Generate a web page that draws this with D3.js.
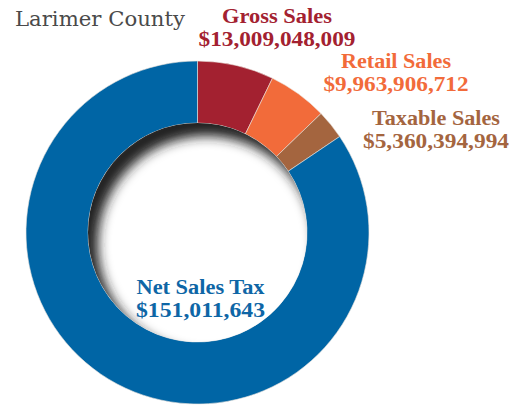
<!DOCTYPE html>
<html>
<head>
<meta charset="utf-8">
<script src="https://cdn.jsdelivr.net/npm/d3@7"></script>
<style>
  html, body { margin: 0; padding: 0; background: #fff; }
  svg { display: block; }
</style>
</head>
<body>
<svg id="chart" width="522" height="405"></svg>
<script>
// Sales categories for Larimer County
const categories = ["Gross Sales", "Retail Sales", "Taxable Sales", "Net Sales Tax"];
// Amounts printed under each category name
const amounts = [13009048009, 9963906712, 5360394994, 151011643];
// Share of the ring given to each category (percent)
const shares = [7.2, 5.6, 2.75, 84.45];
const title = "Larimer County";

const colors = ["#a32130", "#f26b3a", "#a4653f", "#0065a5"];
const textColors = ["#a32130", "#f26b3a", "#a4653f", "#0e66a6"];
// Label layout: centre x, first baseline, name width, amount width
const labelPos = [[277, 23, 110, 157], [396, 68, 110, 145], [436, 125, 128, 146], [200.5, 294, 128, 129]];

const svg = d3.select("#chart");
const cx = 197.5, cy = 232.5, rOuter = 171.5, rInner = 109.5;

const defs = svg.append("defs");
const blur = defs.append("filter").attr("id", "soft")
  .attr("x", "-30%").attr("y", "-30%").attr("width", "160%").attr("height", "160%");
blur.append("feGaussianBlur").attr("stdDeviation", 6);
defs.append("clipPath").attr("id", "hole")
  .append("circle").attr("cx", cx).attr("cy", cy).attr("r", rInner);

const pie = d3.pie().sort(null).value(d => d.share);
const arc = d3.arc().innerRadius(rInner).outerRadius(rOuter);
const data = categories.map((c, i) => ({ name: c, amount: amounts[i], share: shares[i], i }));

const g = svg.append("g").attr("transform", `translate(${cx},${cy})`);
g.selectAll("path.slice")
  .data(pie(data))
  .join("path")
  .attr("class", "slice")
  .attr("d", arc)
  .attr("fill", d => colors[d.data.i])
  .attr("stroke", "#e9e2dc")
  .attr("stroke-width", 0.6);

// Inner shadow on the hole, cast from the upper left
svg.append("circle").attr("cx", cx).attr("cy", cy).attr("r", rInner).attr("fill", "#fff");
svg.append("g").attr("clip-path", "url(#hole)")
  .append("circle")
  .attr("cx", cx + 9).attr("cy", cy + 12)
  .attr("r", rInner + 12)
  .attr("fill", "none")
  .attr("stroke", "#222")
  .attr("stroke-width", 26)
  .attr("filter", "url(#soft)");

// Title
svg.append("text")
  .attr("x", 15).attr("y", 26)
  .attr("font-family", "DejaVu Serif")
  .attr("font-size", 21)
  .attr("fill", "#4a4a4a")
  .attr("textLength", 170)
  .attr("lengthAdjust", "spacingAndGlyphs")
  .text(title);

// Category labels: name on the first line, amount below
const fmt = d3.format("$,");
data.forEach((d, i) => {
  const [x, y, wName, wAmt] = labelPos[i];
  const lines = [[d.name, y, wName], [fmt(d.amount), y + 22.5, wAmt]];
  lines.forEach(([txt, yy, w]) => {
    svg.append("text")
      .attr("x", x).attr("y", yy)
      .attr("text-anchor", "middle")
      .attr("font-family", "Liberation Serif")
      .attr("font-weight", "bold")
      .attr("font-size", 20)
      .attr("textLength", w)
      .attr("lengthAdjust", "spacingAndGlyphs")
      .attr("fill", textColors[i])
      .text(txt);
  });
});
</script>
</body>
</html>
